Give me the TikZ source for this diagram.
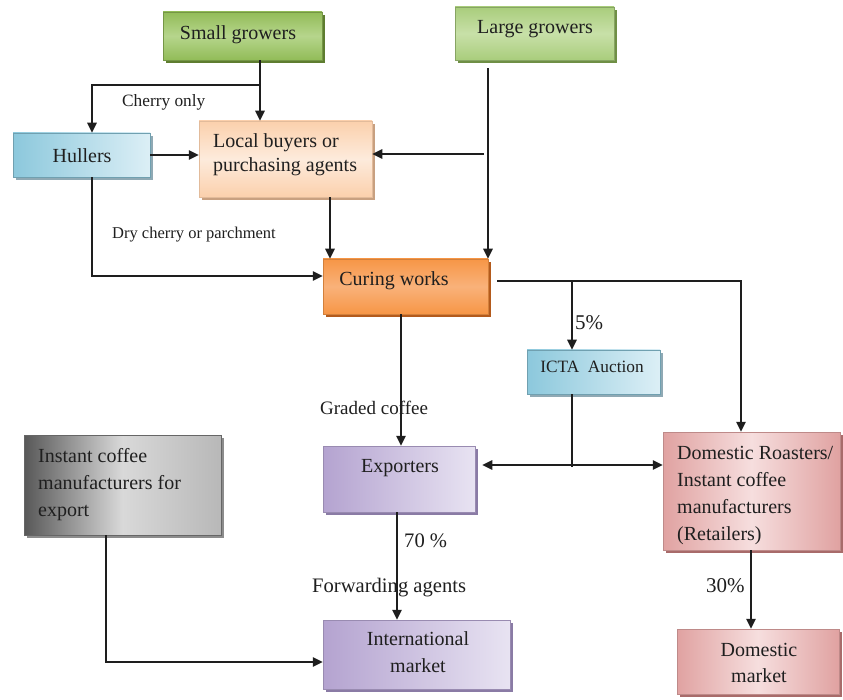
\documentclass[tikz,border=0pt]{standalone}
\usepackage{fontspec}
\setmainfont{Liberation Serif}
\usetikzlibrary{arrows.meta,shadows,calc}
\definecolor{sgA}{HTML}{92BC58}\definecolor{sgB}{HTML}{B6D58C}\definecolor{sgS}{HTML}{5E7D30}
\definecolor{lgA}{HTML}{A9CD7C}\definecolor{lgB}{HTML}{C8E0A8}\definecolor{lgS}{HTML}{6F8F45}
\definecolor{huA}{HTML}{8CC8DC}\definecolor{huB}{HTML}{DCEFF6}\definecolor{huS}{HTML}{8FA9B4}
\definecolor{lbA}{HTML}{FBD0AC}\definecolor{lbB}{HTML}{FDEBDC}\definecolor{lbS}{HTML}{C8A080}
\definecolor{cwA}{HTML}{F79646}\definecolor{cwB}{HTML}{F9B17A}\definecolor{cwS}{HTML}{B35A1C}
\definecolor{exA}{HTML}{B4A3D0}\definecolor{exB}{HTML}{E8E3F2}\definecolor{exS}{HTML}{8A7BA5}
\definecolor{drA}{HTML}{E0A2A1}\definecolor{drB}{HTML}{F6DEDE}\definecolor{drS}{HTML}{A86B6A}
\definecolor{icA}{HTML}{585858}\definecolor{icB}{HTML}{D9D9D9}\definecolor{icC}{HTML}{B8B8B8}
\definecolor{lnC}{HTML}{1E1E1E}
\begin{document}
\begin{tikzpicture}[x=1pt,y=-1pt,
  box/.style={rectangle,inner sep=0pt,line width=0.5pt},
  shd/.style={drop shadow={shadow xshift=3pt,shadow yshift=-3pt,fill=#1,opacity=1}},
  txt/.style={inner sep=0pt,text=black!88,font=\fontsize{20}{27}\selectfont},
  lab/.style={inner sep=0pt,anchor=north west,text=black!88},
  arr/.style={-{Triangle[length=10pt,width=9.5pt]},line width=1.3pt,draw=lnC},
  arrb/.style={{Triangle[length=10pt,width=9.5pt]}-{Triangle[length=10pt,width=9.5pt]},line width=1.3pt,draw=lnC},
  plain/.style={line width=1.3pt,draw=lnC}]
\useasboundingbox (0,0) rectangle (843,700);
\fill[white] (0,0) rectangle (843,700);
% boxes
\node[box,shd=sgS,draw=sgA!80!black,top color=sgA,bottom color=sgA,middle color=sgB,minimum width=159pt,minimum height=48pt] (sg) at (242.5,36) {};
\node[box,shd=lgS,draw=lgA!80!black,top color=lgA,bottom color=lgA,middle color=lgB,minimum width=159pt,minimum height=53pt] (lg) at (534.5,33.5) {};
\node[box,shd=huS,draw=huA!80!black,left color=huA,right color=huB,minimum width=137pt,minimum height=44pt] (hul) at (81.5,155) {};
\node[box,shd=lbS,draw=lbA!90!black,top color=lbA,bottom color=lbA,middle color=lbB,minimum width=173pt,minimum height=76pt] (lb) at (285.5,159) {};
\node[box,shd=cwS,draw=cwA!85!black,top color=cwA,bottom color=cwA,middle color=cwB,minimum width=165pt,minimum height=55pt] (cw) at (405.5,286.5) {};
\node[box,shd=huS,draw=huA!80!black,left color=huA,right color=huB,minimum width=133pt,minimum height=44pt] (icta) at (593.5,372) {};
\node[box,shd=exS,draw=exA!85!black,left color=exA,right color=exB,minimum width=152pt,minimum height=66pt] (exp) at (399,479) {};
\node[box,shd=drS,draw=drA!85!black,left color=drA,right color=drA,middle color=drB,minimum width=177pt,minimum height=118pt] (dr) at (751.5,491) {};
\node[box,shd=black!45,draw=black!60,left color=icA,right color=icC,middle color=icB,minimum width=197pt,minimum height=100pt] (ic) at (122.5,485) {};
\node[box,shd=exS,draw=exA!85!black,left color=exA,right color=exB,minimum width=187pt,minimum height=69pt] (im) at (416.5,654.5) {};
\node[box,shd=drS,draw=drA!85!black,left color=drA,right color=drA,middle color=drB,minimum width=162pt,minimum height=65pt] (dm) at (758,661.5) {};
% box texts
\node[txt,anchor=north] (sgt) at (238,25) {Small growers};
\node[txt,anchor=north] (lgt) at (535,20) {Large growers};
\node[txt,anchor=north] (hult) at (82,148) {Hullers};
\node[txt,anchor=north west,align=left,font=\fontsize{20}{24}\selectfont] (lbt) at (213,133) {Local buyers or\\purchasing agents};
\node[txt,anchor=north] (cwt) at (394,271) {Curing works};
\node[txt,anchor=north,font=\fontsize{17.3}{22}\selectfont] (ictat) at (592,361) {ICTA\ \ Auction};
\node[txt,anchor=north] (expt) at (400,459) {Exporters};
\node[txt,anchor=north west,align=left] (drt) at (677,446) {Domestic Roasters/\\Instant coffee\\manufacturers\\(Retailers)};
\node[txt,anchor=north west,align=left] (ict) at (38,448) {Instant coffee\\manufacturers for\\export};
\node[txt,anchor=north,align=center] (imt) at (418,631) {International\\market};
\node[txt,anchor=north,align=center,font=\fontsize{20}{26}\selectfont] (dmt) at (759,643) {Domestic\\market};
% connector labels
\node[lab,font=\fontsize{17.3}{20}\selectfont] (l1) at (122,94) {Cherry only};
\node[lab,font=\fontsize{16.5}{20}\selectfont] (l2) at (112,227) {Dry cherry or parchment};
\node[lab,font=\fontsize{21}{24}\selectfont] (l3) at (575,315) {5\%};
\node[lab,font=\fontsize{19}{22}\selectfont] (l4) at (320,401) {Graded coffee};
\node[lab,font=\fontsize{20.6}{24}\selectfont] (l5) at (404,534) {70 \%};
\node[lab,font=\fontsize{20.6}{24}\selectfont] (l6) at (312,578) {Forwarding agents};
\node[lab,font=\fontsize{21}{24}\selectfont] (l7) at (706,578) {30\%};
% coordinates
\coordinate (sgb) at (260,85);
\coordinate (lgtap) at (484,154);
\coordinate (cwr) at (497,281);
\coordinate (cwtap) at (572,281);
\coordinate (icb) at (572,467);
% connectors
\draw[arr] (260,0 |- sg.south) -- (260,0 |- lb.north);
\draw[arr] (sgb) -- (92,85) -- (92,0 |- hul.north);
\draw[arr] (hul.east) -- (lb.west |- hul.east);
\draw[arr,shorten <=8pt] (488,0 |- lg.south) -- (488,0 |- cw.north);
\draw[arr] (lgtap) -- (lb.east |- lgtap);
\draw[arr] (330,0 |- lb.south) -- (330,0 |- cw.north);
\draw[arr] (92,0 |- hul.south) -- (92,276) -- (cw.west |- 0,276);
\draw[arr] (cwr) -- (741,281) -- (741,0 |- dr.north);
\draw[arr] (cwtap) -- (572,0 |- icta.north);
\draw[arr] (401,0 |- cw.south) -- (401,0 |- exp.north);
\draw[plain] (572,0 |- icta.south) -- (icb);
\draw[arrb,shorten <=7pt] (exp.east |- 0,465) -- (dr.west |- 0,465);
\draw[arr] (397,0 |- exp.south) -- (397,0 |- im.north);
\draw[arr] (106,0 |- ic.south) -- (106,662) -- (im.west |- 0,662);
\draw[arr] (751,0 |- dr.south) -- (751,0 |- dm.north);
\end{tikzpicture}
\end{document}
